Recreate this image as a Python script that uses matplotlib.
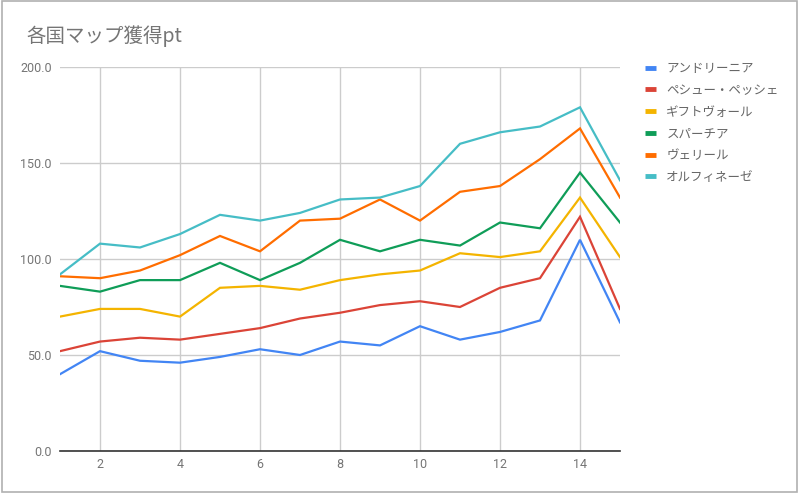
import matplotlib
matplotlib.use("Agg")
import matplotlib.pyplot as plt
from matplotlib.patches import Rectangle

plt.rcParams['font.family'] = ['Roboto', 'Noto Sans CJK JP', 'DejaVu Sans']

title = "各国マップ獲得pt"
x = list(range(1, 16))
names = ["アンドリーニア", "ペシュー・ペッシェ", "ギフトヴォール", "スパーチア", "ヴェリール", "オルフィネーゼ"]
andriinia = [40, 52, 47, 46, 49, 53, 50, 57, 55, 65, 58, 62, 68, 110, 67]
peshu = [52, 57, 59, 58, 61, 64, 69, 72, 76, 78, 75, 85, 90, 122, 74]
giftvall = [70, 74, 74, 70, 85, 86, 84, 89, 92, 94, 103, 101, 104, 132, 101]
sparchia = [86, 83, 89, 89, 98, 89, 98, 110, 104, 110, 107, 119, 116, 145, 119]
verile = [91, 90, 94, 102, 112, 104, 120, 121, 131, 120, 135, 138, 152, 168, 132]
orfinese = [92, 108, 106, 113, 123, 120, 124, 131, 132, 138, 160, 166, 169, 179, 141]
series = [andriinia, peshu, giftvall, sparchia, verile, orfinese]
colors = ["#4285f4", "#db4437", "#f4b400", "#0f9d58", "#ff6d00", "#46bdc6"]
xticks = [2, 4, 6, 8, 10, 12, 14]
yticks = [0, 50, 100, 150, 200]

fig = plt.figure(figsize=(8, 4.95), dpi=100)
ax = fig.add_axes([60/800, 1-451/495, 560/800, 384/495])

for vals, c, n in zip(series, colors, names):
    ax.plot(x, vals, color=c, lw=1.6, label=n, zorder=3, solid_joinstyle='miter')

ax.set_xlim(1, 15)
ax.set_ylim(0, 200)
ax.set_xticks(xticks)
ax.set_yticks(yticks)
ax.set_yticklabels([f"{v:.1f}" for v in yticks])
ax.grid(True, color="#cccccc", lw=1, zorder=0)
for s in ['top', 'right', 'left']:
    ax.spines[s].set_visible(False)
ax.spines['bottom'].set_color("#333333")
ax.spines['bottom'].set_linewidth(1.2)
ax.spines['bottom'].set_zorder(4)
ax.tick_params(axis='both', length=0, labelsize=9, labelcolor="#757575")
ax.tick_params(axis='y', pad=6)
ax.tick_params(axis='x', pad=5)

fig.text(26/800, 1-36/495, title, fontsize=14, color="#757575", va='center', ha='left',
         family=['Noto Sans CJK JP', 'DejaVu Sans'])

leg = ax.legend(loc='upper left', bbox_to_anchor=(640/800, 1-57/495), bbox_transform=fig.transFigure,
                frameon=False, fontsize=9, handlelength=0.9, handletextpad=0.8,
                labelspacing=0.7, borderaxespad=0)
for h in leg.get_lines():
    h.set_linewidth(3.5)
    h.set_solid_capstyle('butt')
for t in leg.get_texts():
    t.set_color("#666666")
    t.set_family(['Noto Sans CJK JP', 'DejaVu Sans'])

fig.patches.append(Rectangle((2/800, 3/495), 795/800, 491/495, transform=fig.transFigure,
                             fill=False, edgecolor="#b0b0b0", lw=1.2))

fig.savefig("out.png", dpi=100, facecolor="white")
